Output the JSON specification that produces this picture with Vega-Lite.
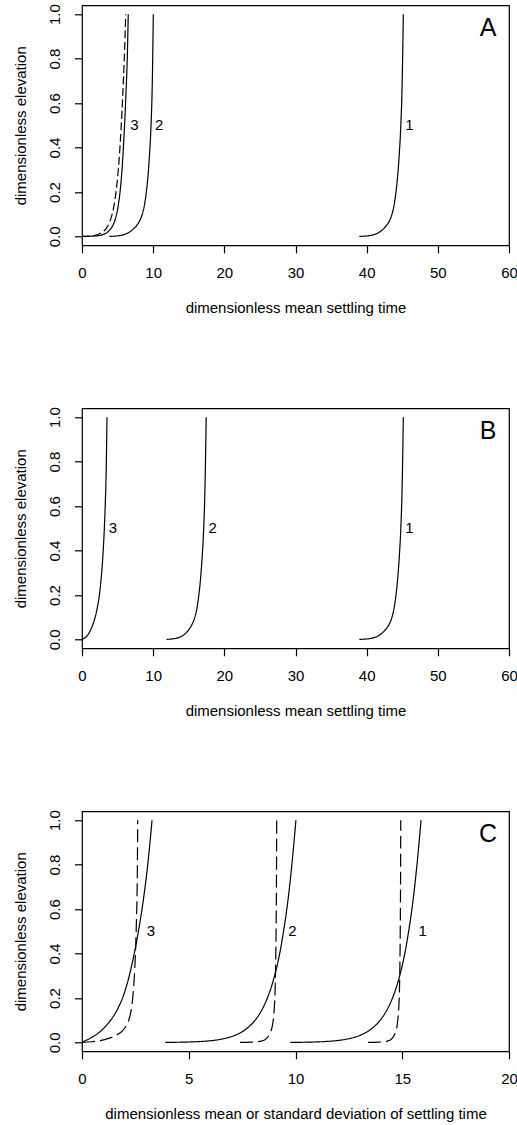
{
  "$schema": "https://vega.github.io/schema/vega-lite/v6.json",
  "padding": {"left": 12, "top": 2.3, "right": 0, "bottom": 5},
  "background": "white",
  "config": {
    "view": {"stroke": "black", "strokeWidth": 1.2},
    "font": "Liberation Sans",
    "text": {"font": "Liberation Sans", "color": "black"},
    "axis": {
      "domain": false, "grid": false,
      "tickColor": "black", "tickSize": 7.5, "tickWidth": 1.2,
      "labelFont": "Liberation Sans", "labelFontSize": 15, "labelColor": "black",
      "labelFlush": false, "labelOverlap": false,
      "titleFont": "Liberation Sans", "titleFontSize": 15, "titleFontWeight": "normal", "titleColor": "black"
    },
    "axisX": {"labelPadding": 25, "labelBaseline": "alphabetic", "labelAlign": "center", "titleX": 213.5, "titleY": 67, "titleBaseline": "alphabetic", "titleAlign": "center"},
    "axisY": {"labelAngle": -90, "labelAlign": "center", "labelBaseline": "alphabetic", "labelPadding": 15.2, "titleX": -57, "titleY": 120, "titleBaseline": "alphabetic", "titleAngle": -90, "titleAlign": "center"}
  },
  "datasets": {
    "curves": [
      {"p":"A","s":"1","d":"solid","t":38.97,"z":0},
      {"p":"A","s":"1","d":"solid","t":39.8,"z":0.0015},
      {"p":"A","s":"1","d":"solid","t":40.5,"z":0.004},
      {"p":"A","s":"1","d":"solid","t":41.0,"z":0.008},
      {"p":"A","s":"1","d":"solid","t":41.5,"z":0.014},
      {"p":"A","s":"1","d":"solid","t":42.0,"z":0.024},
      {"p":"A","s":"1","d":"solid","t":42.4,"z":0.035},
      {"p":"A","s":"1","d":"solid","t":42.8,"z":0.05},
      {"p":"A","s":"1","d":"solid","t":43.2,"z":0.07},
      {"p":"A","s":"1","d":"solid","t":43.56,"z":0.1},
      {"p":"A","s":"1","d":"solid","t":43.85,"z":0.14},
      {"p":"A","s":"1","d":"solid","t":44.12,"z":0.2},
      {"p":"A","s":"1","d":"solid","t":44.35,"z":0.27},
      {"p":"A","s":"1","d":"solid","t":44.58,"z":0.37},
      {"p":"A","s":"1","d":"solid","t":44.8,"z":0.5},
      {"p":"A","s":"1","d":"solid","t":44.98,"z":0.68},
      {"p":"A","s":"1","d":"solid","t":45.15,"z":1.0},

      {"p":"A","s":"2","d":"solid","t":3.84,"z":0},
      {"p":"A","s":"2","d":"solid","t":4.67,"z":0.0015},
      {"p":"A","s":"2","d":"solid","t":5.37,"z":0.004},
      {"p":"A","s":"2","d":"solid","t":5.87,"z":0.008},
      {"p":"A","s":"2","d":"solid","t":6.37,"z":0.014},
      {"p":"A","s":"2","d":"solid","t":6.87,"z":0.024},
      {"p":"A","s":"2","d":"solid","t":7.27,"z":0.035},
      {"p":"A","s":"2","d":"solid","t":7.7,"z":0.05},
      {"p":"A","s":"2","d":"solid","t":8.1,"z":0.07},
      {"p":"A","s":"2","d":"solid","t":8.47,"z":0.1},
      {"p":"A","s":"2","d":"solid","t":8.77,"z":0.14},
      {"p":"A","s":"2","d":"solid","t":9.04,"z":0.2},
      {"p":"A","s":"2","d":"solid","t":9.27,"z":0.27},
      {"p":"A","s":"2","d":"solid","t":9.49,"z":0.37},
      {"p":"A","s":"2","d":"solid","t":9.7,"z":0.5},
      {"p":"A","s":"2","d":"solid","t":9.87,"z":0.68},
      {"p":"A","s":"2","d":"solid","t":10.02,"z":1.0},

      {"p":"A","s":"3","d":"solid","t":0,"z":0},
      {"p":"A","s":"3","d":"solid","t":1.5,"z":0.0012},
      {"p":"A","s":"3","d":"solid","t":2.4,"z":0.004},
      {"p":"A","s":"3","d":"solid","t":3.0,"z":0.009},
      {"p":"A","s":"3","d":"solid","t":3.5,"z":0.017},
      {"p":"A","s":"3","d":"solid","t":3.85,"z":0.027},
      {"p":"A","s":"3","d":"solid","t":4.17,"z":0.04},
      {"p":"A","s":"3","d":"solid","t":4.45,"z":0.057},
      {"p":"A","s":"3","d":"solid","t":4.7,"z":0.08},
      {"p":"A","s":"3","d":"solid","t":4.93,"z":0.11},
      {"p":"A","s":"3","d":"solid","t":5.15,"z":0.15},
      {"p":"A","s":"3","d":"solid","t":5.38,"z":0.21},
      {"p":"A","s":"3","d":"solid","t":5.6,"z":0.29},
      {"p":"A","s":"3","d":"solid","t":5.8,"z":0.39},
      {"p":"A","s":"3","d":"solid","t":5.98,"z":0.5},
      {"p":"A","s":"3","d":"solid","t":6.2,"z":0.66},
      {"p":"A","s":"3","d":"solid","t":6.36,"z":0.8},
      {"p":"A","s":"3","d":"solid","t":6.5,"z":1.0},

      {"p":"A","s":"3d","d":"dashA","t":0,"z":0},
      {"p":"A","s":"3d","d":"dashA","t":1.0,"z":0.0015},
      {"p":"A","s":"3d","d":"dashA","t":1.8,"z":0.005},
      {"p":"A","s":"3d","d":"dashA","t":2.4,"z":0.011},
      {"p":"A","s":"3d","d":"dashA","t":2.9,"z":0.02},
      {"p":"A","s":"3d","d":"dashA","t":3.3,"z":0.032},
      {"p":"A","s":"3d","d":"dashA","t":3.62,"z":0.047},
      {"p":"A","s":"3d","d":"dashA","t":3.9,"z":0.066},
      {"p":"A","s":"3d","d":"dashA","t":4.15,"z":0.09},
      {"p":"A","s":"3d","d":"dashA","t":4.4,"z":0.122},
      {"p":"A","s":"3d","d":"dashA","t":4.62,"z":0.163},
      {"p":"A","s":"3d","d":"dashA","t":4.84,"z":0.215},
      {"p":"A","s":"3d","d":"dashA","t":5.06,"z":0.285},
      {"p":"A","s":"3d","d":"dashA","t":5.28,"z":0.375},
      {"p":"A","s":"3d","d":"dashA","t":5.5,"z":0.49},
      {"p":"A","s":"3d","d":"dashA","t":5.72,"z":0.63},
      {"p":"A","s":"3d","d":"dashA","t":5.94,"z":0.8},
      {"p":"A","s":"3d","d":"dashA","t":6.15,"z":1.0},

      {"p":"B","s":"1","d":"solid","t":38.97,"z":0},
      {"p":"B","s":"1","d":"solid","t":39.8,"z":0.0015},
      {"p":"B","s":"1","d":"solid","t":40.5,"z":0.004},
      {"p":"B","s":"1","d":"solid","t":41.0,"z":0.008},
      {"p":"B","s":"1","d":"solid","t":41.5,"z":0.014},
      {"p":"B","s":"1","d":"solid","t":42.0,"z":0.024},
      {"p":"B","s":"1","d":"solid","t":42.4,"z":0.035},
      {"p":"B","s":"1","d":"solid","t":42.8,"z":0.05},
      {"p":"B","s":"1","d":"solid","t":43.2,"z":0.07},
      {"p":"B","s":"1","d":"solid","t":43.56,"z":0.1},
      {"p":"B","s":"1","d":"solid","t":43.85,"z":0.14},
      {"p":"B","s":"1","d":"solid","t":44.12,"z":0.2},
      {"p":"B","s":"1","d":"solid","t":44.35,"z":0.27},
      {"p":"B","s":"1","d":"solid","t":44.58,"z":0.37},
      {"p":"B","s":"1","d":"solid","t":44.8,"z":0.5},
      {"p":"B","s":"1","d":"solid","t":44.98,"z":0.68},
      {"p":"B","s":"1","d":"solid","t":45.15,"z":1.0},

      {"p":"B","s":"2","d":"solid","t":11.9,"z":0},
      {"p":"B","s":"2","d":"solid","t":12.6,"z":0.002},
      {"p":"B","s":"2","d":"solid","t":13.2,"z":0.005},
      {"p":"B","s":"2","d":"solid","t":13.7,"z":0.01},
      {"p":"B","s":"2","d":"solid","t":14.2,"z":0.018},
      {"p":"B","s":"2","d":"solid","t":14.65,"z":0.03},
      {"p":"B","s":"2","d":"solid","t":15.08,"z":0.047},
      {"p":"B","s":"2","d":"solid","t":15.5,"z":0.07},
      {"p":"B","s":"2","d":"solid","t":15.86,"z":0.1},
      {"p":"B","s":"2","d":"solid","t":16.15,"z":0.14},
      {"p":"B","s":"2","d":"solid","t":16.42,"z":0.2},
      {"p":"B","s":"2","d":"solid","t":16.65,"z":0.27},
      {"p":"B","s":"2","d":"solid","t":16.88,"z":0.37},
      {"p":"B","s":"2","d":"solid","t":17.1,"z":0.5},
      {"p":"B","s":"2","d":"solid","t":17.28,"z":0.68},
      {"p":"B","s":"2","d":"solid","t":17.45,"z":1.0},

      {"p":"B","s":"3","d":"solid","t":0,"z":0},
      {"p":"B","s":"3","d":"solid","t":0.3,"z":0.005},
      {"p":"B","s":"3","d":"solid","t":0.6,"z":0.012},
      {"p":"B","s":"3","d":"solid","t":0.9,"z":0.024},
      {"p":"B","s":"3","d":"solid","t":1.2,"z":0.042},
      {"p":"B","s":"3","d":"solid","t":1.5,"z":0.065},
      {"p":"B","s":"3","d":"solid","t":1.8,"z":0.094},
      {"p":"B","s":"3","d":"solid","t":2.1,"z":0.135},
      {"p":"B","s":"3","d":"solid","t":2.4,"z":0.19},
      {"p":"B","s":"3","d":"solid","t":2.65,"z":0.26},
      {"p":"B","s":"3","d":"solid","t":2.88,"z":0.35},
      {"p":"B","s":"3","d":"solid","t":3.08,"z":0.46},
      {"p":"B","s":"3","d":"solid","t":3.26,"z":0.6},
      {"p":"B","s":"3","d":"solid","t":3.4,"z":0.76},
      {"p":"B","s":"3","d":"solid","t":3.51,"z":1.0},

      {"p":"C","s":"1","d":"solid","t":9.76,"z":0},
      {"p":"C","s":"1","d":"solid","t":10.7,"z":0.0014},
      {"p":"C","s":"1","d":"solid","t":11.28,"z":0.0034},
      {"p":"C","s":"1","d":"solid","t":11.86,"z":0.0074},
      {"p":"C","s":"1","d":"solid","t":12.38,"z":0.0144},
      {"p":"C","s":"1","d":"solid","t":12.81,"z":0.0244},
      {"p":"C","s":"1","d":"solid","t":13.09,"z":0.0344},
      {"p":"C","s":"1","d":"solid","t":13.38,"z":0.049},
      {"p":"C","s":"1","d":"solid","t":13.66,"z":0.069},
      {"p":"C","s":"1","d":"solid","t":13.96,"z":0.099},
      {"p":"C","s":"1","d":"solid","t":14.3,"z":0.149},
      {"p":"C","s":"1","d":"solid","t":14.54,"z":0.199},
      {"p":"C","s":"1","d":"solid","t":14.88,"z":0.3},
      {"p":"C","s":"1","d":"solid","t":15.12,"z":0.4},
      {"p":"C","s":"1","d":"solid","t":15.3,"z":0.5},
      {"p":"C","s":"1","d":"solid","t":15.52,"z":0.65},
      {"p":"C","s":"1","d":"solid","t":15.69,"z":0.8},
      {"p":"C","s":"1","d":"solid","t":15.88,"z":1.0},

      {"p":"C","s":"1d","d":"dashC","t":13.4,"z":0},
      {"p":"C","s":"1d","d":"dashC","t":13.85,"z":0.001},
      {"p":"C","s":"1d","d":"dashC","t":14.12,"z":0.003},
      {"p":"C","s":"1d","d":"dashC","t":14.3,"z":0.006},
      {"p":"C","s":"1d","d":"dashC","t":14.44,"z":0.011},
      {"p":"C","s":"1d","d":"dashC","t":14.55,"z":0.02},
      {"p":"C","s":"1d","d":"dashC","t":14.63,"z":0.033},
      {"p":"C","s":"1d","d":"dashC","t":14.7,"z":0.05},
      {"p":"C","s":"1d","d":"dashC","t":14.76,"z":0.077},
      {"p":"C","s":"1d","d":"dashC","t":14.8,"z":0.11},
      {"p":"C","s":"1d","d":"dashC","t":14.84,"z":0.16},
      {"p":"C","s":"1d","d":"dashC","t":14.865,"z":0.22},
      {"p":"C","s":"1d","d":"dashC","t":14.89,"z":0.35},
      {"p":"C","s":"1d","d":"dashC","t":14.91,"z":0.55},
      {"p":"C","s":"1d","d":"dashC","t":14.922,"z":0.75},
      {"p":"C","s":"1d","d":"dashC","t":14.93,"z":1.0},

      {"p":"C","s":"2","d":"solid","t":3.9,"z":0},
      {"p":"C","s":"2","d":"solid","t":4.84,"z":0.0014},
      {"p":"C","s":"2","d":"solid","t":5.42,"z":0.0034},
      {"p":"C","s":"2","d":"solid","t":6.0,"z":0.0074},
      {"p":"C","s":"2","d":"solid","t":6.52,"z":0.0144},
      {"p":"C","s":"2","d":"solid","t":6.95,"z":0.0244},
      {"p":"C","s":"2","d":"solid","t":7.23,"z":0.0344},
      {"p":"C","s":"2","d":"solid","t":7.52,"z":0.049},
      {"p":"C","s":"2","d":"solid","t":7.8,"z":0.069},
      {"p":"C","s":"2","d":"solid","t":8.1,"z":0.099},
      {"p":"C","s":"2","d":"solid","t":8.44,"z":0.149},
      {"p":"C","s":"2","d":"solid","t":8.68,"z":0.199},
      {"p":"C","s":"2","d":"solid","t":9.02,"z":0.3},
      {"p":"C","s":"2","d":"solid","t":9.26,"z":0.4},
      {"p":"C","s":"2","d":"solid","t":9.44,"z":0.5},
      {"p":"C","s":"2","d":"solid","t":9.66,"z":0.65},
      {"p":"C","s":"2","d":"solid","t":9.83,"z":0.8},
      {"p":"C","s":"2","d":"solid","t":10.02,"z":1.0},

      {"p":"C","s":"2d","d":"dashC","t":7.4,"z":0},
      {"p":"C","s":"2d","d":"dashC","t":7.9,"z":0.001},
      {"p":"C","s":"2d","d":"dashC","t":8.2,"z":0.003},
      {"p":"C","s":"2d","d":"dashC","t":8.4,"z":0.006},
      {"p":"C","s":"2d","d":"dashC","t":8.55,"z":0.011},
      {"p":"C","s":"2d","d":"dashC","t":8.67,"z":0.02},
      {"p":"C","s":"2d","d":"dashC","t":8.77,"z":0.033},
      {"p":"C","s":"2d","d":"dashC","t":8.85,"z":0.05},
      {"p":"C","s":"2d","d":"dashC","t":8.92,"z":0.077},
      {"p":"C","s":"2d","d":"dashC","t":8.97,"z":0.11},
      {"p":"C","s":"2d","d":"dashC","t":9.01,"z":0.16},
      {"p":"C","s":"2d","d":"dashC","t":9.04,"z":0.22},
      {"p":"C","s":"2d","d":"dashC","t":9.07,"z":0.35},
      {"p":"C","s":"2d","d":"dashC","t":9.095,"z":0.55},
      {"p":"C","s":"2d","d":"dashC","t":9.11,"z":0.75},
      {"p":"C","s":"2d","d":"dashC","t":9.12,"z":1.0},

      {"p":"C","s":"3","d":"solid","t":0,"z":0.002},
      {"p":"C","s":"3","d":"solid","t":0.25,"z":0.012},
      {"p":"C","s":"3","d":"solid","t":0.5,"z":0.025},
      {"p":"C","s":"3","d":"solid","t":0.78,"z":0.043},
      {"p":"C","s":"3","d":"solid","t":1.06,"z":0.068},
      {"p":"C","s":"3","d":"solid","t":1.36,"z":0.102},
      {"p":"C","s":"3","d":"solid","t":1.68,"z":0.153},
      {"p":"C","s":"3","d":"solid","t":1.92,"z":0.205},
      {"p":"C","s":"3","d":"solid","t":2.24,"z":0.31},
      {"p":"C","s":"3","d":"solid","t":2.47,"z":0.41},
      {"p":"C","s":"3","d":"solid","t":2.66,"z":0.51},
      {"p":"C","s":"3","d":"solid","t":2.9,"z":0.66},
      {"p":"C","s":"3","d":"solid","t":3.08,"z":0.8},
      {"p":"C","s":"3","d":"solid","t":3.28,"z":1.0},

      {"p":"C","s":"3d","d":"dashC","t":0,"z":0},
      {"p":"C","s":"3d","d":"dashC","t":0.45,"z":0.003},
      {"p":"C","s":"3d","d":"dashC","t":0.9,"z":0.009},
      {"p":"C","s":"3d","d":"dashC","t":1.28,"z":0.019},
      {"p":"C","s":"3d","d":"dashC","t":1.6,"z":0.032},
      {"p":"C","s":"3d","d":"dashC","t":1.85,"z":0.048},
      {"p":"C","s":"3d","d":"dashC","t":2.03,"z":0.068},
      {"p":"C","s":"3d","d":"dashC","t":2.16,"z":0.092},
      {"p":"C","s":"3d","d":"dashC","t":2.26,"z":0.125},
      {"p":"C","s":"3d","d":"dashC","t":2.34,"z":0.17},
      {"p":"C","s":"3d","d":"dashC","t":2.42,"z":0.25},
      {"p":"C","s":"3d","d":"dashC","t":2.49,"z":0.37},
      {"p":"C","s":"3d","d":"dashC","t":2.55,"z":0.55},
      {"p":"C","s":"3d","d":"dashC","t":2.59,"z":0.75},
      {"p":"C","s":"3d","d":"dashC","t":2.61,"z":1.0}
    ],
    "labels": [
      {"p":"A","k":"curve","t":7.35,"z":0.5,"label":"3"},
      {"p":"A","k":"curve","t":10.86,"z":0.5,"label":"2"},
      {"p":"A","k":"curve","t":46.0,"z":0.5,"label":"1"},
      {"p":"A","k":"panel","t":57.05,"z":0.9,"label":"A"},
      {"p":"B","k":"curve","t":4.36,"z":0.5,"label":"3"},
      {"p":"B","k":"curve","t":18.36,"z":0.5,"label":"2"},
      {"p":"B","k":"curve","t":46.0,"z":0.5,"label":"1"},
      {"p":"B","k":"panel","t":57.05,"z":0.9,"label":"B"},
      {"p":"C","k":"curve","t":3.23,"z":0.5,"label":"3"},
      {"p":"C","k":"curve","t":9.85,"z":0.5,"label":"2"},
      {"p":"C","k":"curve","t":15.96,"z":0.5,"label":"1"},
      {"p":"C","k":"panel","t":19.02,"z":0.9,"label":"C"}
    ]
  },
  "bounds": "flush",
  "spacing": 163,
  "vconcat": [
    {
      "width": 427, "height": 240,
      "encoding": {
        "x": {"field": "t", "type": "quantitative", "scale": {"domain": [0, 60], "nice": false, "zero": false},
              "axis": {"values": [0, 10, 20, 30, 40, 50, 60], "format": "d", "title": "dimensionless mean settling time"}},
        "y": {"field": "z", "type": "quantitative", "scale": {"domain": [-0.04, 1.04], "nice": false, "zero": false},
              "axis": {"values": [0, 0.2, 0.4, 0.6, 0.8, 1.0], "format": ".1f", "title": "dimensionless elevation"}}
      },
      "layer": [
        {
          "data": {"name": "curves"},
          "transform": [{"filter": "datum.p === 'A'"}],
          "mark": {"type": "line", "interpolate": "monotone", "color": "black", "strokeWidth": 1.2},
          "encoding": {
            "detail": {"field": "s"},
            "strokeDash": {"field": "d", "type": "nominal", "legend": null,
              "scale": {"domain": ["solid", "dashA", "dashC"], "range": [[1, 0], [8, 3.5], [13, 5]]}}
          }
        },
        {
          "data": {"name": "labels"},
          "transform": [{"filter": "datum.p === 'A' && datum.k === 'curve'"}],
          "mark": {"type": "text", "fontSize": 15, "baseline": "middle", "align": "center"},
          "encoding": {"text": {"field": "label"}}
        },
        {
          "data": {"name": "labels"},
          "transform": [{"filter": "datum.p === 'A' && datum.k === 'panel'"}],
          "mark": {"type": "text", "fontSize": 25, "baseline": "alphabetic", "align": "center"},
          "encoding": {"text": {"field": "label"}}
        }
      ]
    },
    {
      "width": 427, "height": 240,
      "encoding": {
        "x": {"field": "t", "type": "quantitative", "scale": {"domain": [0, 60], "nice": false, "zero": false},
              "axis": {"values": [0, 10, 20, 30, 40, 50, 60], "format": "d", "title": "dimensionless mean settling time"}},
        "y": {"field": "z", "type": "quantitative", "scale": {"domain": [-0.04, 1.04], "nice": false, "zero": false},
              "axis": {"values": [0, 0.2, 0.4, 0.6, 0.8, 1.0], "format": ".1f", "title": "dimensionless elevation"}}
      },
      "layer": [
        {
          "data": {"name": "curves"},
          "transform": [{"filter": "datum.p === 'B'"}],
          "mark": {"type": "line", "interpolate": "monotone", "color": "black", "strokeWidth": 1.2},
          "encoding": {
            "detail": {"field": "s"},
            "strokeDash": {"field": "d", "type": "nominal", "legend": null,
              "scale": {"domain": ["solid", "dashA", "dashC"], "range": [[1, 0], [8, 3.5], [13, 5]]}}
          }
        },
        {
          "data": {"name": "labels"},
          "transform": [{"filter": "datum.p === 'B' && datum.k === 'curve'"}],
          "mark": {"type": "text", "fontSize": 15, "baseline": "middle", "align": "center"},
          "encoding": {"text": {"field": "label"}}
        },
        {
          "data": {"name": "labels"},
          "transform": [{"filter": "datum.p === 'B' && datum.k === 'panel'"}],
          "mark": {"type": "text", "fontSize": 25, "baseline": "alphabetic", "align": "center"},
          "encoding": {"text": {"field": "label"}}
        }
      ]
    },
    {
      "width": 427, "height": 240,
      "encoding": {
        "x": {"field": "t", "type": "quantitative", "scale": {"domain": [0, 20], "nice": false, "zero": false},
              "axis": {"values": [0, 5, 10, 15, 20], "format": "d", "title": "dimensionless mean or standard deviation of settling time"}},
        "y": {"field": "z", "type": "quantitative", "scale": {"domain": [-0.04, 1.04], "nice": false, "zero": false},
              "axis": {"values": [0, 0.2, 0.4, 0.6, 0.8, 1.0], "format": ".1f", "title": "dimensionless elevation"}}
      },
      "layer": [
        {
          "data": {"name": "curves"},
          "transform": [{"filter": "datum.p === 'C'"}],
          "mark": {"type": "line", "interpolate": "monotone", "color": "black", "strokeWidth": 1.2},
          "encoding": {
            "detail": {"field": "s"},
            "strokeDash": {"field": "d", "type": "nominal", "legend": null,
              "scale": {"domain": ["solid", "dashA", "dashC"], "range": [[1, 0], [8, 3.5], [13, 5]]}}
          }
        },
        {
          "data": {"name": "labels"},
          "transform": [{"filter": "datum.p === 'C' && datum.k === 'curve'"}],
          "mark": {"type": "text", "fontSize": 15, "baseline": "middle", "align": "center"},
          "encoding": {"text": {"field": "label"}}
        },
        {
          "data": {"name": "labels"},
          "transform": [{"filter": "datum.p === 'C' && datum.k === 'panel'"}],
          "mark": {"type": "text", "fontSize": 25, "baseline": "alphabetic", "align": "center"},
          "encoding": {"text": {"field": "label"}}
        }
      ]
    }
  ]
}
